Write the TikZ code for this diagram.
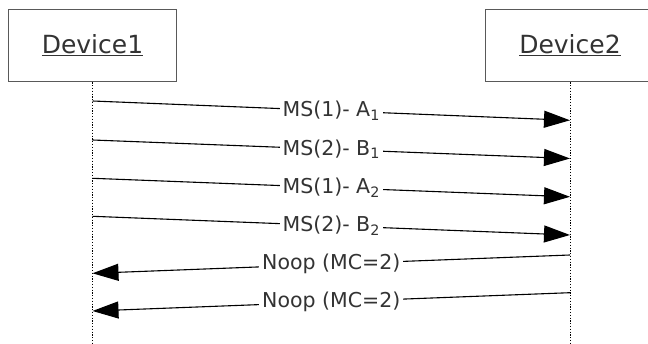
\documentclass[tikz,border=0pt]{standalone}
\usepackage{fontspec}
\setmainfont{DejaVu Sans}
\usepackage{tikz}
\usetikzlibrary{arrows.meta}

\begin{document}
\begin{tikzpicture}[x=1pt,y=-1pt,node distance=477.5pt,
	dev/.style={draw=black!65, line width=1.2pt, minimum width=168.5pt, minimum height=72.5pt, font=\fontsize{25}{30}\selectfont, text=black!80},
	life/.style={line width=0.9pt, dash pattern=on 1.2pt off 1.6pt},
	msg/.style={line width=1.1pt, -{Triangle[length=26pt,width=17pt]}},
	lbl/.style={fill=white, inner sep=3pt, font=\fontsize{20.5}{24}\selectfont, text=black!80}]
\useasboundingbox (0,0) rectangle (648,344);
\clip (0,0) rectangle (648,344);
\node[dev] (D1) at (92.5,45.5) {\underline{Device1}};
\node[dev, right of=D1] (D2) {\underline{Device2}};
\coordinate (D1end) at (92.5,344);
\coordinate (D2end) at (570,344);
\draw[life] (D1.south) -- (D1end);
\draw[life] (D2.south) -- (D2end);
\coordinate (L1) at (92.5,101);
\coordinate (R1) at (570,120.3);
\coordinate (L2) at (92.5,140);
\coordinate (R2) at (570,158.5);
\coordinate (L3) at (92.5,178.3);
\coordinate (R3) at (570,196.8);
\coordinate (L4) at (92.5,216.3);
\coordinate (R4) at (570,235);
\coordinate (R5) at (570,255);
\coordinate (L5) at (92.5,273.3);
\coordinate (R6) at (570,292.7);
\coordinate (L6) at (92.5,311);
\draw[msg] (L1) -- node[lbl]{MS(1)- A\textsubscript{1}} (R1);
\draw[msg] (L2) -- node[lbl]{MS(2)- B\textsubscript{1}} (R2);
\draw[msg] (L3) -- node[lbl]{MS(1)- A\textsubscript{2}} (R3);
\draw[msg] (L4) -- node[lbl]{MS(2)- B\textsubscript{2}} (R4);
\draw[msg] (R5) -- node[lbl]{Noop (MC=2)} (L5);
\draw[msg] (R6) -- node[lbl]{Noop (MC=2)} (L6);
\end{tikzpicture}
\end{document}
